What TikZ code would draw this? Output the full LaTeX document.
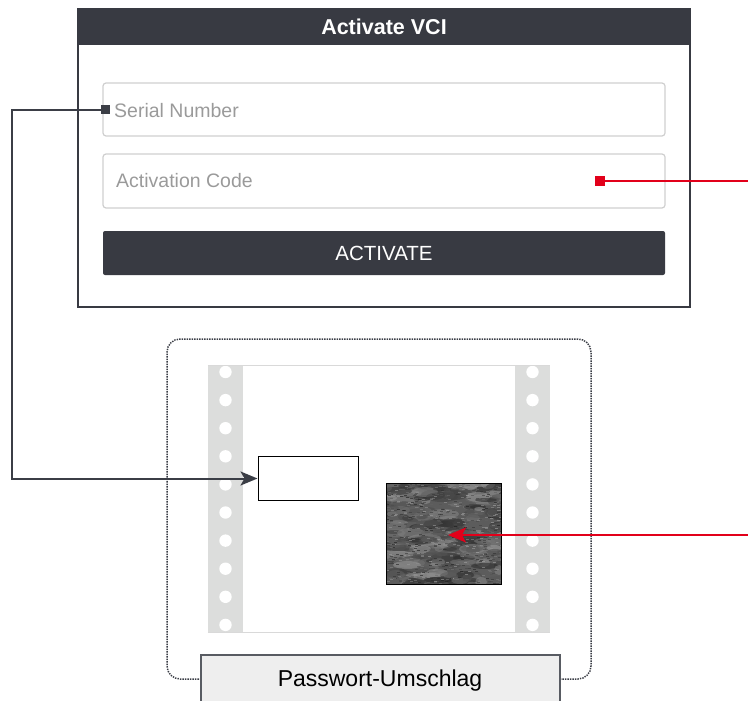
\documentclass[tikz,border=0pt]{standalone}
\usepackage{fontspec}
\setmainfont{Liberation Sans}
\usetikzlibrary{arrows.meta}
\definecolor{uidark}{HTML}{383A42}
\definecolor{fieldborder}{HTML}{CFCFCF}
\definecolor{phgray}{HTML}{9A9A9A}
\definecolor{linedark}{HTML}{3B3E46}
\definecolor{redc}{HTML}{E2001A}
\definecolor{stripgray}{HTML}{DCDDDC}
\definecolor{paperline}{HTML}{D9D9D9}
\definecolor{envgray}{HTML}{EEEEEE}
\tikzset{
  dialogbox/.style={draw=uidark, line width=1.5pt, minimum width=612pt, minimum height=298pt, inner sep=0pt},
  headerbox/.style={fill=uidark, minimum width=612pt, minimum height=36pt, inner sep=0pt, text=white, font=\fontsize{21.5}{24}\selectfont\bfseries},
  fieldbox/.style={draw=fieldborder, line width=1.2pt, rounded corners=3pt, minimum width=562pt, inner sep=0pt},
  phtext/.style={text=phgray, font=\fontsize{19.5}{24}\selectfont, inner sep=0pt, anchor=west},
  buttonbox/.style={fill=uidark, rounded corners=2pt, minimum width=562pt, minimum height=44pt, inner sep=0pt, text=white, font=\fontsize{20.5}{24}\selectfont},
  sqmark/.style={minimum size=9pt, inner sep=0pt},
  envbox/.style={draw=linedark, line width=1.5pt, dash pattern=on 1.4pt off 1.1pt, rounded corners=13pt, minimum width=424pt, minimum height=340pt, inner sep=0pt},
  stripbox/.style={fill=stripgray, minimum width=35pt, minimum height=266pt, inner sep=0pt},
  darkline/.style={draw=linedark, line width=2pt},
  redline/.style={draw=redc, line width=2pt},
}
\begin{document}
\begin{tikzpicture}[x=1pt,y=-1pt]
\useasboundingbox (0,0) rectangle (748,701);
% dialog
\node[dialogbox] (dlg) at (384,158) {};
\node[headerbox] (hdr) at (384,27) {Activate\hspace{6pt}VCI};
\node[fieldbox, minimum height=53pt] (sn) at (384,109.5) {};
\node[phtext] (snt) at (114,111) {Serial Number};
\node[fieldbox, minimum height=54pt] (ac) at (384,181) {};
\node[phtext] (act) at (116,181) {Activation Code};
\node[buttonbox] (btn) at (384,253) {ACTIVATE};
% envelope
\node[envbox] (env) at (379,509) {};
\node[fill=white, minimum width=342pt, minimum height=266pt, inner sep=0pt] (paper) at (379,499) {};
\draw[paperline, line width=1pt] (paper.north west) -- (paper.north east);
\draw[paperline, line width=1pt] (paper.south west) -- (paper.south east);
\node[stripbox] (lstrip) at (225.5,499) {};
\node[stripbox] (rstrip) at (532.5,499) {};
\begin{scope}
\clip (208,366) rectangle (550,632);
\foreach \i in {0,...,9} {
  \fill[white] (225.5,{372+28.1*\i}) circle (6.2pt);
  \fill[white] (532.5,{372+28.1*\i}) circle (6.2pt);
}
\end{scope}
\node[draw=black, line width=1pt, fill=white, minimum width=100pt, minimum height=44pt, inner sep=0pt] (wbox) at (308,478.5) {};
% texture
\node[minimum width=114pt, minimum height=100pt, inner sep=0pt, fill=black!64] (tex) at (444,534) {};
\pgfmathsetseed{11}
\begin{scope}
\clip (387,484) rectangle (501,584);
\foreach \k in {1,...,260} {
  \pgfmathsetmacro{\px}{384+random(0,120)}
  \pgfmathsetmacro{\py}{482+random(0,104)}
  \pgfmathsetmacro{\rx}{random(5,16)}
  \pgfmathsetmacro{\ry}{random(2,5)}
  \pgfmathsetmacro{\g}{int(random(40,85))}
  \fill[black!\g, opacity=0.55] (\px,\py) ellipse ({\rx pt} and {\ry pt});
}
\foreach \k in {1,...,700} {
  \pgfmathsetmacro{\px}{386+random(0,116)}
  \pgfmathsetmacro{\py}{483+random(0,102)}
  \pgfmathsetmacro{\g}{int(random(35,90))}
  \fill[black!\g, opacity=0.6] (\px,\py) rectangle ++(2.5,1.2);
}
\end{scope}
\draw[black, line width=1.2pt] (tex.north west) rectangle (tex.south east);
% Passwort label
\fill[envgray] (201,655) rectangle (560,702);
\draw[linedark!85, line width=1.2pt] (201,702) -- (201,655) -- (560,655) -- (560,702);
\node[font=\fontsize{23}{26}\selectfont, inner sep=0pt] (pwl) at (380,681) {Passwort-Umschlag};
% markers and connectors
\node[sqmark, fill=linedark] (dsq) at (105,110) {};
\node[sqmark, fill=redc, minimum size=10pt] (rsq) at (600,181) {};
\coordinate (c1) at (12,110);
\coordinate (redR) at (748,181);
\coordinate (redR2) at (748,535);
\coordinate (redtip) at (448,535);
\draw[darkline, -{Stealth[length=17pt,width=14pt,inset=4pt]}] (dsq.center) -- (c1) |- (wbox.west);
\draw[redline] (rsq.center) -- (redR);
\draw[redline, -{Stealth[length=18pt,width=15pt,inset=4pt]}] (redR2) -- (redtip);
\end{tikzpicture}
\end{document}
